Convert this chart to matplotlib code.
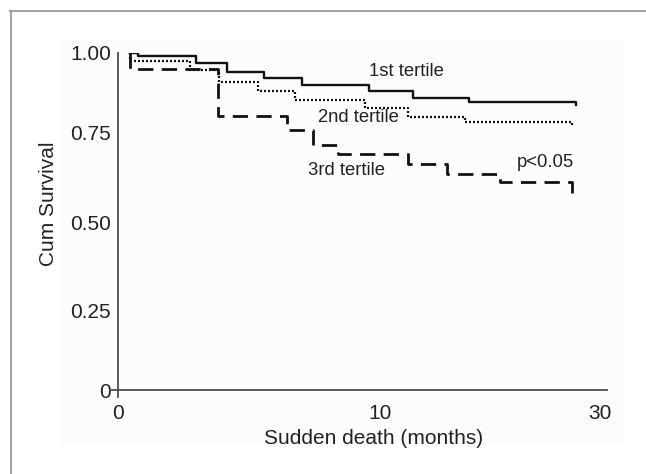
import numpy as np
import matplotlib
matplotlib.use("Agg")
import matplotlib.pyplot as plt
from matplotlib.lines import Line2D
from matplotlib.patches import Rectangle
from matplotlib.ticker import NullLocator

plt.rcParams['font.family'] = ['Liberation Sans', 'DejaVu Sans']

# Kaplan-Meier step points: time (months) and cumulative survival per tertile
t_first = [0.46, 0.76, 2.98, 4.16, 5.57, 7.02, 9.58, 13.0, 18.1, 27.8, 27.8]
s_first = [1.0, 0.990, 0.967, 0.939, 0.920, 0.900, 0.880, 0.859, 0.846, 0.846, 0.835]

t_second = [0.46, 0.46, 2.75, 3.85, 5.34, 6.76, 9.43, 12.55, 17.7, 27.45, 27.45]
s_second = [1.0, 0.975, 0.947, 0.908, 0.881, 0.852, 0.827, 0.797, 0.783, 0.783, 0.766]

t_third = [0.46, 0.46, 3.82, 6.45, 7.44, 8.40, 12.55, 16.1, 20.9, 27.45, 27.45]
s_third = [1.0, 0.950, 0.801, 0.756, 0.714, 0.689, 0.661, 0.633, 0.612, 0.612, 0.570]

x_ticks = [0, 10, 30]
y_ticks = [0, 0.25, 0.5, 0.75, 1.0]
y_ticklabels = ['0', '0.25', '0.50', '0.75', '1.00']

# the printed axes are not evenly spaced, so use piecewise-linear scales
X_KNOTS = [-5, 0, 10, 30, 40]
X_POS = [-131, 0, 262, 482, 592]
Y_KNOTS = [-0.5, 0, 0.25, 0.5, 0.75, 1.0, 1.5]
Y_POS = [-160, 0, 80, 168, 258, 337, 495]


def x_fwd(v):
    return np.interp(v, X_KNOTS, X_POS)


def x_inv(p):
    return np.interp(p, X_POS, X_KNOTS)


def y_fwd(v):
    return np.interp(v, Y_KNOTS, Y_POS)


def y_inv(p):
    return np.interp(p, Y_POS, Y_KNOTS)


W, H = 646, 474
fig = plt.figure(figsize=(W / 100, H / 100), dpi=100)

# faint panel and the grey frame lines
fig.patches.append(Rectangle((60 / W, 1 - 443 / H), 563 / W, 403 / H,
                             transform=fig.transFigure, color='#fcfcfc', zorder=-5))
fig.lines.append(Line2D([10 / W, 1], [1 - 11 / H, 1 - 11 / H],
                        transform=fig.transFigure, color='#9a9a9a', lw=1.3))
fig.lines.append(Line2D([10.5 / W, 10.5 / W], [0, 1 - 11 / H],
                        transform=fig.transFigure, color='#9a9a9a', lw=1.3))

ax = fig.add_axes([110 / W, 77 / H, 497 / W, 344 / H])
ax.patch.set_alpha(0)
ax.set_xscale('function', functions=(x_fwd, x_inv))
ax.set_yscale('function', functions=(y_fwd, y_inv))
ax.set_xlim(float(x_inv(-8)), float(x_inv(489)))
ax.set_ylim(float(y_inv(-7)), 1.0)

ink = '#111111'
ax.plot(t_first, s_first, drawstyle='steps-post', color=ink, lw=1.7)
ax.plot(t_second, s_second, drawstyle='steps-post', color=ink, lw=1.6,
        linestyle=(0, (0.9, 0.9)))
ax.plot(t_third, s_third, drawstyle='steps-post', color=ink, lw=2.0,
        linestyle=(0, (5.5, 3)))

txt = '#222222'
ax.text(12.36, 0.940, '1st tertile', ha='center', va='center', fontsize=13.3, color=txt)
ax.text(9.16, 0.797, '2nd tertile', ha='center', va='center', fontsize=13.3, color=txt)
ax.text(8.74, 0.642, '3rd tertile', ha='center', va='center', fontsize=13.3, color=txt)
ax.text(25.0, 0.664, 'p<0.05', ha='center', va='center', fontsize=13.3, color=txt)

# spines cross at the origin
for side in ['top', 'right']:
    ax.spines[side].set_visible(False)
ax.spines['left'].set_position(('data', 0))
ax.spines['bottom'].set_position(('data', 0))
for side in ['left', 'bottom']:
    ax.spines[side].set_color('#4d4d4d')
    ax.spines[side].set_linewidth(1.3)

ax.set_xticks(x_ticks)
ax.set_xticklabels([str(v) for v in x_ticks])
ax.set_yticks(y_ticks)
ax.set_yticklabels(y_ticklabels)
ax.xaxis.set_minor_locator(NullLocator())
ax.yaxis.set_minor_locator(NullLocator())
ax.tick_params(axis='x', length=0, pad=10, labelsize=15, colors=txt)
ax.tick_params(axis='y', length=0, pad=5, labelsize=15, colors=txt)

ax.set_xlabel('Sudden death (months)', fontsize=15, color=txt)
ax.xaxis.set_label_coords((374 - 110) / 497, (397 - 438) / 344)
ax.xaxis.label.set_va('center')
ax.set_ylabel('Cum Survival', fontsize=15, color=txt)
ax.yaxis.set_label_coords((48 - 110) / 497, (397 - 204) / 344)
ax.yaxis.label.set_va('center')

fig.savefig('out.png', dpi=100)
